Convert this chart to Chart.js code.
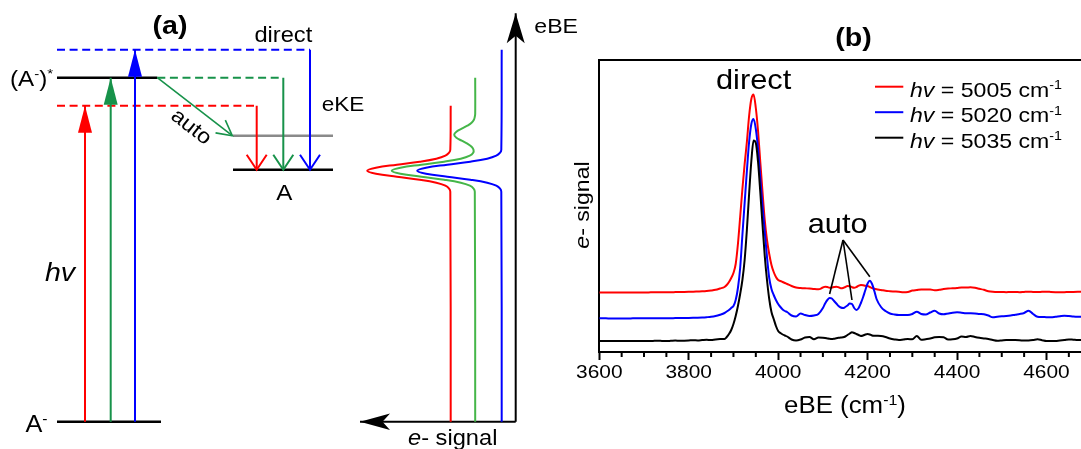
<!DOCTYPE html>
<html>
<head>
<meta charset="utf-8">
<script src="https://cdn.jsdelivr.net/npm/chart.js@4.4.1/dist/chart.umd.min.js"></script>
<style>
  html, body { margin: 0; padding: 0; background: #fff; overflow: hidden; }
  #wrap { position: relative; width: 1081px; height: 449px; overflow: hidden; }
  #schemeCanvas { position: absolute; left: 0; top: 0; }
  #spectrumCanvas { position: absolute; left: 540px; top: 0; }
</style>
</head>
<body>
<div id="wrap">
  <canvas id="schemeCanvas" width="600" height="449"></canvas>
  <canvas id="spectrumCanvas" width="560" height="449"></canvas>
</div>
<script>
// ---------- (b) photoelectron spectra ----------
const eBE = [
  3600, 3610, 3620, 3630, 3640, 3650, 3660, 3670, 3680, 3690,
  3700, 3710, 3720, 3730, 3740, 3750, 3760, 3770, 3780, 3790,
  3800, 3810, 3820, 3830, 3840, 3850, 3860, 3870,
  3880, 3885, 3890, 3895, 3900, 3905, 3910, 3915, 3920, 3925,
  3930, 3935, 3940, 3945, 3950, 3955, 3960, 3965, 3970, 3975,
  3980, 3985, 3990, 3995, 4000, 4005, 4010, 4015, 4020,
  4030, 4040, 4050, 4060, 4070, 4080, 4090,
  4100, 4105, 4110, 4115, 4120, 4125, 4130, 4135, 4140, 4145,
  4150, 4155, 4160, 4165, 4170, 4175, 4180, 4185, 4190, 4195,
  4200, 4205, 4210, 4215, 4220,
  4230, 4240, 4250, 4260, 4270, 4280, 4290, 4300, 4310, 4320,
  4330, 4340, 4350, 4360, 4370, 4380, 4390, 4400, 4410, 4420,
  4430, 4440, 4450, 4460, 4470, 4480, 4490, 4500, 4510, 4520,
  4530, 4540, 4550, 4560, 4570, 4580, 4590, 4600, 4610, 4620,
  4630, 4640, 4650, 4660, 4670, 4680
];

// hv = 5005 cm-1
const signal5005 = [
  59.5, 59.5, 59.5, 59.5, 59.5, 59.5, 59.5, 59.5, 59.6, 59.6,
  59.6, 59.6, 59.7, 59.7, 59.7, 59.8, 59.8, 59.9, 60, 60.1,
  60.2, 60.3, 60.5, 60.7, 61, 61.5, 62.2, 63.5,
  65, 67, 70, 74, 79, 88, 108, 135, 163, 188,
  210, 236, 253, 257.5, 244, 221, 190, 160, 132, 112,
  98, 87, 80, 75, 72, 71, 70, 69, 68,
  66, 64.5, 64, 63.7, 63.5, 63, 62.7,
  64.5, 65.3, 65, 64.3, 64.5, 65, 65.3, 64.7, 63.8, 64,
  65, 66, 65.8, 64.8, 64.3, 65, 66.3, 67, 66.8, 66.2,
  66, 65, 64, 63.2, 62.7,
  62, 61.2, 60.8, 60.5, 60.2, 59.8, 60, 61.5, 62, 62.5,
  62.5, 62.5, 61.7, 62.2, 63, 63.5, 63.7, 64, 64.5, 64.4,
  64.7, 64.2, 63.2, 62.2, 60.8, 60.2, 60, 60, 59.8, 60,
  60, 59.8, 60.1, 60.3, 60.1, 60, 60.2, 60.3, 60, 59.8,
  59.7, 59.8, 60, 60.1, 60.2, 60.3
];

// hv = 5020 cm-1
const signal5020 = [
  33.7, 33.7, 33.6, 33.6, 33.6, 33.6, 33.6, 33.6, 33.7, 33.7,
  33.7, 33.7, 33.7, 33.8, 33.8, 33.8, 33.8, 33.9, 33.9, 34,
  34.1, 34.2, 34.3, 34.5, 34.8, 35.2, 36, 37.3,
  39, 40.5, 42, 44, 46, 52, 64, 84, 117, 149,
  181, 210, 228, 233, 223, 203, 174, 146, 120, 95,
  74, 63, 57, 52, 48, 45, 42.5, 41, 40,
  36.5, 35.5, 38.5, 37, 36, 36.5, 38,
  44, 48.5, 52, 54, 53.5, 51, 48.5, 46, 44.5, 44,
  45, 46.5, 48.5, 48, 44, 42, 44, 49, 55, 62,
  68.5, 71.3, 68, 61, 53,
  45, 41, 38.5, 37.5, 37, 37, 37, 38, 40.3, 38,
  37.5, 39.5, 41.3, 38.5, 37.7, 38.5, 39.3, 39.7, 39.3, 38.8,
  38.7, 38.5, 38, 37.7, 36.5, 34.7, 35.3, 35.7, 36, 36.5,
  37.3, 38, 39, 41.3, 38, 35.3, 35, 34.8, 34.7, 35.2,
  35.8, 36.3, 36, 35.5, 35.3, 35.3
];

// hv = 5035 cm-1
const signal5035 = [
  11, 11, 11, 11.1, 11, 11, 11, 11, 11.1, 11,
  11, 11, 11.1, 11.2, 11.1, 11, 11.2, 11.4, 11.2, 11.3,
  11.5, 11.8, 11.6, 11.9, 12.2, 12, 12.6, 12.9,
  13, 15, 18, 22, 28, 36, 46, 58, 72, 92,
  122, 158, 191, 211.5, 209, 190, 160, 127, 96, 72,
  53, 40, 33, 26, 21, 19, 17.5, 16.5, 15.5,
  12.5, 11.5, 12.5, 14.5, 15, 12.8, 14.5,
  14.3, 14, 13.6, 13.2, 13, 13.3, 13.8, 14.2, 14.5, 14.7,
  15.5, 17, 18.5, 19.7, 19, 18, 17, 16, 16.5, 17.5,
  18, 17.5, 16.5, 16.3, 16.2,
  16, 15, 13.5, 12.6, 12, 12.5, 13, 12.7, 16, 12.2,
  12.8, 13.5, 14.7, 15, 14.7, 12.5, 12.7, 13.5, 15.5, 15,
  16, 15, 14.2, 13.6, 13, 12, 11.3, 11.6, 12, 12,
  12, 11.8, 11.4, 11.5, 12, 12.7, 11.8, 11, 11, 11,
  11.6, 12, 12.6, 12.3, 12, 12
];

const photonEnergies = [5005, 5020, 5035];
const traceColors = ['#ff0000', '#0000ff', '#000000'];
const xTickLabels = [3600, 3800, 4000, 4200, 4400, 4600];
const autoPeaks = [4115, 4165, 4205];   // resonance features picked out on the 5020 trace

// ---------- (a) energy-level scheme (arb. units, anion ground state = 0) ----------
const levelAnion = 0;
const levelNeutral = 63;
const levelAuto = 71.5;
const levelExcited = 86;
const hvScheme = [79, 86, 93];              // red, green, blue photons
const schemeColors = ['#ff0000', '#17924a', '#0000ff'];
const sketchColors = ['#ff0000', '#45b649', '#0000ff'];

// sketched spectra beside the scheme: [eBE, e- signal]
const sketchRed = [
  [0, 65], [57.5, 65.4], [58.25, 66.6], [59, 70.3], [59.75, 79.4], [60.5, 96],
  [61.25, 118.8], [62, 139.8], [62.75, 148.5], [63.5, 139.8], [64.25, 118.8],
  [65, 96], [65.75, 79.4], [66.5, 70.3], [67.25, 66.6], [68, 65.4], [79, 65]
];
const sketchGreen = [
  [0, 40.5], [57.5, 40.9], [58.25, 42.1], [59, 45.8], [59.75, 54.9], [60.5, 71.6],
  [61.25, 94.3], [62, 115.3], [62.75, 124], [63.5, 115.3], [64.25, 94.3],
  [65, 71.6], [65.75, 54.9], [66.5, 45.9], [67.25, 42.5], [68, 42.2],
  [68.75, 44.1], [69.5, 48.3], [70.25, 54], [71, 59.3], [71.75, 61.5],
  [72.5, 59.3], [73.25, 54], [74, 48.3], [74.75, 44.1], [75.5, 41.8],
  [76.25, 40.9], [77, 40.5], [86, 40.5]
];
const sketchBlue = [
  [0, 14], [57.5, 14.4], [58.25, 15.6], [59, 19.4], [59.75, 28.5], [60.5, 45.4],
  [61.25, 68.4], [62, 89.7], [62.75, 98.5], [63.5, 89.7], [64.25, 68.4],
  [65, 45.4], [65.75, 28.5], [66.5, 19.4], [67.25, 15.6], [68, 14.4], [93, 14]
];
const sketchAxisTop = 102.1;      // eBE arrow
const sketchAxisEnd = 155.7;      // e- signal arrow

// ---------- layout ----------
const FONT = '"Liberation Sans", Arial, Helvetica, sans-serif';
const TEXT_SX = 1.1;
const LEVEL_X0 = 57, ANION_X1 = 161, EXCITED_X1 = 157.3;
const PUMP_X = [85, 110.7, 135];
const DROP_X = [256.7, 283.3, 310];
const NEUTRAL_X0 = 233, NEUTRAL_X1 = 333;
const SIGNAL_ORIGIN = 515.7;
const SCHEME_W = 600, SCHEME_H = 449, ANION_PX = 421.7, PX_PER_E = 4;

// text with italic / bold / superscript runs, slightly widened
function drawText(ctx, runs, x, y, o = {}) {
  const size = o.size || 20;
  ctx.save();
  ctx.translate(x, y);
  if (o.rotate) ctx.rotate(o.rotate);
  ctx.scale(TEXT_SX, 1);
  ctx.fillStyle = o.color || '#000';
  ctx.textBaseline = o.baseline || 'alphabetic';
  ctx.textAlign = 'left';
  const parts = runs.map(([t, st]) => {
    const sz = st === 'sup' ? size * 0.62 : size;
    const font = (st === 'i' ? 'italic ' : '') + (o.bold ? 'bold ' : '') + sz + 'px ' + FONT;
    ctx.font = font;
    return { t, font, w: ctx.measureText(t).width, dy: st === 'sup' ? -size * 0.36 : 0 };
  });
  const total = parts.reduce((a, p) => a + p.w, 0);
  let cx = o.align === 'center' ? -total / 2 : o.align === 'right' ? -total : 0;
  parts.forEach(p => {
    ctx.font = p.font;
    ctx.fillText(p.t, cx, p.dy);
    cx += p.w;
  });
  ctx.restore();
}

// arrow heads at the last point of a dataset
const arrowHeads = {
  id: 'arrowHeads',
  afterDatasetsDraw(chart) {
    const ctx = chart.ctx;
    chart.data.datasets.forEach((ds, i) => {
      if (!ds.arrowHead) return;
      const pts = chart.getDatasetMeta(i).data;
      const tip = pts[pts.length - 1], prev = pts[pts.length - 2];
      const ang = Math.atan2(tip.y - prev.y, tip.x - prev.x);
      const L = ds.headLength, W = ds.headWidth;
      ctx.save();
      ctx.translate(tip.x, tip.y);
      ctx.rotate(ang);
      ctx.fillStyle = ds.borderColor;
      ctx.strokeStyle = ds.borderColor;
      ctx.beginPath();
      if (ds.arrowHead === 'open') {
        ctx.lineWidth = ds.borderWidth;
        ctx.lineJoin = 'miter';
        ctx.moveTo(-L, -W);
        ctx.lineTo(0, 0);
        ctx.lineTo(-L, W);
        ctx.stroke();
      } else {
        ctx.moveTo(0, 0);
        ctx.lineTo(-L, -W);
        ctx.lineTo(ds.arrowHead === 'stealth' ? -L * 0.75 : -L, 0);
        ctx.lineTo(-L, W);
        ctx.closePath();
        ctx.fill();
      }
      ctx.restore();
    });
  }
};

const line = (data, color, width, extra = {}) => Object.assign({
  data, borderColor: color, borderWidth: width, showLine: true,
  pointRadius: 0, tension: 0, borderCapStyle: 'butt'
}, extra);

const dash = [8, 4.6];
const schemeSets = [];
// photon arrows
hvScheme.forEach((hv, i) => {
  schemeSets.push(line([{ x: PUMP_X[i], y: levelAnion }, { x: PUMP_X[i], y: hv }], schemeColors[i], 2,
    { arrowHead: 'solid', headLength: 27, headWidth: 7 }));
});
// autodetachment
schemeSets.push(line([{ x: EXCITED_X1, y: levelExcited }, { x: NEUTRAL_X0 - 0.7, y: levelAuto }], schemeColors[1], 1.6,
  { arrowHead: 'open', headLength: 15, headWidth: 8 }));
// direct detachment: dashed level then drop to the neutral
hvScheme.forEach((hv, i) => {
  const x0 = i === 1 ? EXCITED_X1 : LEVEL_X0;
  schemeSets.push(line([{ x: x0, y: hv }, { x: DROP_X[i], y: hv }, { x: DROP_X[i], y: levelNeutral }], schemeColors[i], 2, {
    arrowHead: 'open', headLength: 15, headWidth: 10,
    segment: { borderDash: c => (c.p0DataIndex === 0 ? dash : []) }
  }));
});
// sketched spectra and their axes
[sketchRed, sketchGreen, sketchBlue].forEach((s, i) => {
  schemeSets.push(line(s.map(([e, v]) => ({ x: v, y: e })), sketchColors[i], 2, { xAxisID: 'xs', tension: 0.4 }));
});
schemeSets.push(line([{ x: 0, y: levelAnion }, { x: 0, y: sketchAxisTop }], '#000', 2,
  { xAxisID: 'xs', arrowHead: 'stealth', headLength: 30, headWidth: 9 }));
schemeSets.push(line([{ x: 0, y: levelAnion }, { x: sketchAxisEnd, y: levelAnion }], '#000', 2,
  { xAxisID: 'xs', arrowHead: 'stealth', headLength: 30, headWidth: 8.3 }));
// levels
schemeSets.push(line([{ x: NEUTRAL_X0, y: levelAuto }, { x: NEUTRAL_X1, y: levelAuto }], '#8a8a8a', 2.5));
schemeSets.push(line([{ x: NEUTRAL_X0, y: levelNeutral }, { x: NEUTRAL_X1, y: levelNeutral }], '#000', 2.5));
schemeSets.push(line([{ x: LEVEL_X0, y: levelExcited }, { x: EXCITED_X1, y: levelExcited }], '#000', 2.5));
schemeSets.push(line([{ x: LEVEL_X0, y: levelAnion }, { x: ANION_X1, y: levelAnion }], '#000', 2.5));

const schemeLabels = {
  id: 'schemeLabels',
  afterDraw(chart) {
    const ctx = chart.ctx;
    drawText(ctx, [['(a)']], 170, 34, { size: 26, bold: true, align: 'center' });
    drawText(ctx, [['direct']], 283.3, 41.7, { size: 21.5, align: 'center' });
    drawText(ctx, [['(A'], ['-', 'sup'], [')'], ['*', 'sup']], 10, 86, { size: 22 });
    drawText(ctx, [['A'], ['-', 'sup']], 25.5, 432, { size: 23 });
    drawText(ctx, [['A']], 284.3, 200, { size: 22, align: 'center' });
    drawText(ctx, [['eKE']], 321.7, 110.7, { size: 20.5 });
    drawText(ctx, [['auto']], 191, 127.3, { size: 21, align: 'center', baseline: 'middle', rotate: 38 * Math.PI / 180 });
    drawText(ctx, [['hv', 'i']], 60, 281, { size: 26, align: 'center' });
    drawText(ctx, [['eBE']], 534.3, 33, { size: 21 });
    drawText(ctx, [['e', 'i'], ['- signal']], 408, 445, { size: 21.5 });
  }
};

new Chart(document.getElementById('schemeCanvas'), {
  type: 'scatter',
  data: { datasets: schemeSets },
  options: {
    responsive: false, animation: false, devicePixelRatio: 1,
    layout: { padding: 0 },
    plugins: { legend: { display: false }, tooltip: { enabled: false } },
    scales: {
      x: { type: 'linear', display: false, min: 0, max: SCHEME_W },
      xs: { type: 'linear', axis: 'x', display: false, reverse: true,
            min: -(SCHEME_W - SIGNAL_ORIGIN), max: SIGNAL_ORIGIN },
      y: { type: 'linear', display: false,
           min: -(SCHEME_H - ANION_PX) / PX_PER_E, max: ANION_PX / PX_PER_E }
    }
  },
  plugins: [arrowHeads, schemeLabels]
});

// ---------- (b) chart ----------
const toPoints = ys => eBE.map((e, i) => ({ x: e, y: ys[i] }));
const series = [signal5005, signal5020, signal5035];

const spectrumLabels = {
  id: 'spectrumLabels',
  afterDraw(chart) {
    const { ctx, chartArea: area, scales: { x, y } } = chart;
    // minor ticks every 50 cm-1
    ctx.save();
    ctx.strokeStyle = '#000';
    ctx.lineWidth = 2;
    x.ticks.forEach(t => {
      if (t.value % 200 === 0) return;
      const px = x.getPixelForValue(t.value);
      ctx.beginPath();
      ctx.moveTo(px, area.bottom);
      ctx.lineTo(px, area.bottom + 5);
      ctx.stroke();
    });
    ctx.restore();

    xTickLabels.forEach(v => drawText(ctx, [[String(v)]], x.getPixelForValue(v), area.bottom + 25.7, { size: 19, align: 'center' }));
    drawText(ctx, [['eBE (cm'], ['-1', 'sup'], [')']], 305, 413, { size: 23.5, align: 'center' });
    drawText(ctx, [['e', 'i'], ['- signal']], 43.3, 205, { size: 21, align: 'center', baseline: 'middle', rotate: -Math.PI / 2 });
    drawText(ctx, [['(b)']], 313.5, 46, { size: 26, bold: true, align: 'center' });

    // peak annotations
    drawText(ctx, [['direct']], x.getPixelForValue(3945), y.getPixelForValue(262.7), { size: 28, align: 'center' });
    drawText(ctx, [['auto']], x.getPixelForValue(4133), y.getPixelForValue(119.3), { size: 28, align: 'center' });
    const ax = x.getPixelForValue(4145), ay = y.getPixelForValue(112);
    ctx.save();
    ctx.strokeStyle = '#000';
    ctx.lineWidth = 1.6;
    autoPeaks.forEach(p => {
      const v = signal5020[eBE.indexOf(p)];
      ctx.beginPath();
      ctx.moveTo(ax, ay);
      ctx.lineTo(x.getPixelForValue(p), y.getPixelForValue(v) - 4);
      ctx.stroke();
    });
    ctx.restore();

    // legend
    photonEnergies.forEach((hv, i) => {
      const ly = area.top + 26.7 + i * 25.5;
      ctx.save();
      ctx.strokeStyle = traceColors[i];
      ctx.lineWidth = 2;
      ctx.beginPath();
      ctx.moveTo(area.left + 275.7, ly);
      ctx.lineTo(area.left + 304, ly);
      ctx.stroke();
      ctx.restore();
      drawText(ctx, [['hv', 'i'], [' = ' + hv + ' cm'], ['-1', 'sup']], area.left + 310.7, ly + 10, { size: 21 });
    });
  }
};

new Chart(document.getElementById('spectrumCanvas'), {
  type: 'scatter',
  data: {
    // black drawn on top, red at the bottom
    datasets: [2, 1, 0].map(i => ({
      data: toPoints(series[i]),
      borderColor: traceColors[i],
      borderWidth: 2,
      showLine: true,
      pointRadius: 0,
      cubicInterpolationMode: 'monotone'
    }))
  },
  options: {
    responsive: false, animation: false, devicePixelRatio: 1,
    layout: { padding: { left: 0, top: 60, right: 8.8, bottom: 0 } },
    plugins: { legend: { display: false }, tooltip: { enabled: false } },
    scales: {
      x: {
        type: 'linear', min: 3600, max: 4700,
        afterFit: s => { s.height = 97; },
        border: { display: true, color: '#000', width: 2 },
        grid: {
          drawOnChartArea: false, drawTicks: true, tickLength: 8, tickWidth: 2,
          tickColor: c => (c.tick && c.tick.value % 200 === 0 ? '#000' : 'rgba(0,0,0,0)')
        },
        ticks: { stepSize: 50, autoSkip: false, display: false }
      },
      xTop: {
        type: 'linear', axis: 'x', position: 'top', min: 3600, max: 4700,
        afterFit: s => { s.height = 0; },
        border: { display: true, color: '#000', width: 2 },
        grid: { display: false },
        ticks: { display: false }
      },
      y: {
        type: 'linear', min: 0, max: 292,
        afterFit: s => { s.width = 59.3; },
        border: { display: true, color: '#000', width: 2 },
        grid: { display: false },
        ticks: { display: false }
      }
    }
  },
  plugins: [spectrumLabels]
});
</script>
</body>
</html>
